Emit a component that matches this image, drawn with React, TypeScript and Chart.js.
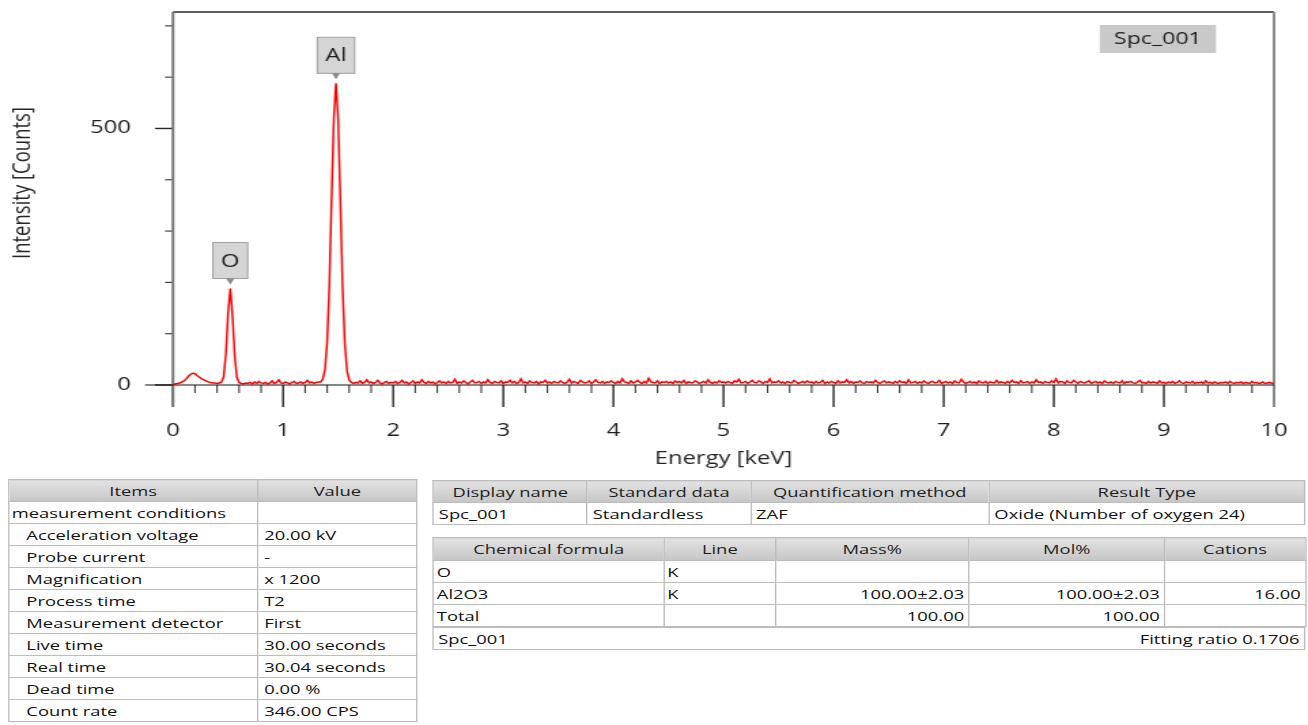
import React, { useEffect, useRef } from 'react';
import { Chart, registerables } from 'chart.js';

Chart.register(...registerables);

// ---------------- data ----------------
const energyStart = 0; // keV of first channel
const energyStep = 0.02; // keV per channel
const counts: number[] = [
  1, 2, 3, 4, 6, 8, 12, 17, 21, 23, 22, 18, 15, 12, 10, 8, 6, 5, 4, 4, 3, 4, 6, 16, 60,
  140, 188, 136, 58, 15, 5, 3, 2, 4, 3, 5, 2, 6, 3, 7, 4, 3, 5, 2, 4, 8, 3, 5, 10, 4,
  3, 6, 4, 2, 5, 7, 3, 4, 6, 3, 5, 9, 4, 6, 3, 5, 6, 6, 11, 30, 84, 196, 362, 518, 588,
  518, 358, 192, 82, 28, 10, 5, 3, 5, 4, 8, 3, 5, 10, 4, 6, 3, 5, 9, 4, 2, 5, 7, 3, 5,
  4, 7, 3, 5, 9, 4, 6, 2, 5, 8, 3, 6, 4, 10, 5, 3, 7, 4, 6, 2, 5, 8, 4, 6, 3,
  7, 4, 5, 11, 3, 6, 4, 8, 5, 2, 6, 9, 4, 5, 7, 3, 6, 4, 10, 5, 3, 7, 5, 4, 8,
  3, 6, 5, 9, 4, 7, 3, 5, 12, 4, 6, 3, 8, 5, 4, 7, 2, 6, 5, 9, 4, 6, 3, 7, 5,
  4, 8, 5, 3, 6, 11, 4, 7, 5, 3, 9, 6, 4, 5, 8, 3, 6, 10, 5, 4, 7, 3, 6, 5, 8,
  5, 3, 7, 4, 12, 6, 5, 3, 8, 4, 6, 9, 5, 3, 7, 4, 13, 6, 5, 4, 8, 3, 6, 5, 7,
  4, 6, 3, 8, 5, 7, 4, 9, 3, 6, 5, 4, 8, 6, 3, 5, 7, 4, 10, 5, 3, 6, 4, 8, 5,
  6, 4, 7, 5, 3, 8, 6, 11, 4, 5, 7, 3, 6, 9, 5, 4, 8, 6, 3, 7, 5, 12, 4, 6, 5,
  8, 4, 6, 3, 7, 5, 4, 9, 6, 3, 5, 7, 4, 8, 5, 6, 3, 7, 4, 5, 9, 3, 6, 4, 7,
  5, 3, 8, 4, 6, 5, 10, 4, 7, 3, 6, 5, 8, 4, 3, 7, 5, 6, 4, 9, 5, 3, 6, 8, 4,
  6, 5, 3, 7, 4, 8, 5, 6, 3, 10, 4, 5, 7, 3, 6, 4, 8, 5, 3, 6, 7, 4, 5, 9, 3,
  5, 7, 4, 6, 3, 8, 5, 4, 11, 6, 3, 5, 7, 4, 6, 3, 8, 5, 4, 7, 3, 6, 5, 4, 9,
  4, 6, 5, 3, 7, 4, 9, 5, 6, 3, 8, 4, 5, 7, 3, 6, 4, 10, 5, 6, 3, 7, 5, 4, 8,
  5, 12, 4, 7, 6, 3, 8, 5, 4, 9, 6, 3, 7, 5, 4, 6, 8, 3, 5, 7, 4, 6, 3, 8, 5,
  4, 6, 3, 7, 5, 4, 8, 3, 6, 5, 7, 4, 3, 6, 9, 4, 5, 3, 7, 4, 6, 5, 3, 8, 4,
  5, 3, 6, 4, 7, 3, 5, 8, 4, 3, 6, 5, 4, 7, 3, 5, 4, 6, 3, 8, 4, 5, 3, 6, 4,
  3, 5, 4, 6, 3, 7, 4, 3, 5, 4, 6, 3, 5, 4, 3, 7, 4, 5, 3, 4, 6, 3, 4, 5, 3,
  4,
];
const spectrumName = 'Spc_001';
const peakNames = ['O', 'Al'];
const peakEnergies = [0.52, 1.48];
const peakCounts = [188, 588];

const xMin = 0;
const xMax = 10;
const xTickValues = [0, 1, 2, 3, 4, 5, 6, 7, 8, 9, 10];
const xMinorStep = 0.2;
const yMin = 0;
const yMax = 727;
const yTickValues = [0, 500];
const yMinorStep = 100;
const xTitle = 'Energy [keV]';
const yTitle = 'Intensity [Counts]';

const conditionHeaders = ['Items', 'Value'];
const conditionItems = [
  'measurement conditions',
  'Acceleration voltage',
  'Probe current',
  'Magnification',
  'Process time',
  'Measurement detector',
  'Live time',
  'Real time',
  'Dead time',
  'Count rate',
];
const conditionValues = ['', '20.00 kV', '-', 'x 1200', 'T2', 'First', '30.00 seconds', '30.04 seconds', '0.00 %', '346.00 CPS'];

const resultHeaders = ['Display name', 'Standard data', 'Quantification method', 'Result Type'];
const resultValues = ['Spc_001', 'Standardless', 'ZAF', 'Oxide (Number of oxygen 24)'];

const quantHeaders = ['Chemical formula', 'Line', 'Mass%', 'Mol%', 'Cations'];
const quantFormulas = ['O', 'Al2O3', 'Total'];
const quantLines = ['K', 'K', ''];
const quantMass = ['', '100.00±2.03', '100.00'];
const quantMol = ['', '100.00±2.03', '100.00'];
const quantCations = ['', '16.00', ''];
const footerLeft = 'Spc_001';
const footerRight = 'Fitting ratio 0.1706';

// ---------------- layout ----------------
const PAGE_W = 962;
const SX = 1308 / PAGE_W; // the whole picture is stretched horizontally
const sx = (v: number) => v / SX;
const FONT = '"Open Sans", "Noto Sans", sans-serif';
const CANVAS_H = 478;
const PLOT_TOP = 12;
const PLOT_BOTTOM = 385;
const PLOT_LEFT = sx(173);
const PLOT_RIGHT = sx(1274);

const edsDecor = {
  id: 'edsDecor',
  beforeDatasetsDraw(chart: any) {
    const { ctx, chartArea } = chart;
    const { left, right, top } = chartArea;
    const xs = chart.scales.x;
    const ys = chart.scales.y;
    const y0 = ys.getPixelForValue(yMin);
    const majorLen = 22;
    const minorLen = 8;
    const seg = (x1: number, y1: number, x2: number, y2: number, color: string, w: number) => {
      ctx.beginPath();
      ctx.moveTo(x1, y1);
      ctx.lineTo(x2, y2);
      ctx.strokeStyle = color;
      ctx.lineWidth = w;
      ctx.stroke();
    };
    ctx.save();
    const nX = Math.round((xMax - xMin) / xMinorStep);
    for (let i = 1; i < nX; i++) {
      const v = xMin + i * xMinorStep;
      if (xTickValues.some((t) => Math.abs(t - v) < 1e-6)) continue;
      const px = xs.getPixelForValue(v);
      seg(px, y0, px, y0 + minorLen, '#3c3c3c', 1.1);
    }
    xs.ticks.forEach((t: any) => {
      const px = xs.getPixelForValue(t.value);
      seg(px, y0, px, y0 + majorLen, '#262626', 1.4);
    });
    const nY = Math.floor((yMax - yMin) / yMinorStep);
    for (let i = 1; i <= nY; i++) {
      const v = yMin + i * yMinorStep;
      if (yTickValues.includes(v)) continue;
      const py = ys.getPixelForValue(v);
      seg(left - sx(8), py, left, py, '#444', 1.2);
    }
    ys.ticks.forEach((t: any) => {
      const py = ys.getPixelForValue(t.value);
      seg(left - sx(18), py, left, py, '#262626', 1.4);
    });
    seg(left, top, right, top, '#2a2a2a', 1.3);
    seg(left, top, left, y0 + majorLen, '#777777', 2);
    seg(right, top, right, y0 + majorLen, '#8a8a8a', 2);
    seg(left - sx(28), y0, right, y0, '#111111', 1.1);
    ctx.restore();
  },
  afterDraw(chart: any) {
    const { ctx, chartArea } = chart;
    const { left, right, top } = chartArea;
    const xs = chart.scales.x;
    const ys = chart.scales.y;
    ctx.save();
    // peak labels
    ctx.font = `17.5px ${FONT}`;
    peakNames.forEach((name, i) => {
      const px = xs.getPixelForValue(peakEnergies[i]);
      const py = ys.getPixelForValue(peakCounts[i]);
      const tw = ctx.measureText(name).width;
      const bw = tw + 12;
      const bh = 36;
      const bb = py - 10;
      const bt = bb - bh;
      ctx.fillStyle = '#d5d5d5';
      ctx.fillRect(px - bw / 2, bt, bw, bh);
      ctx.strokeStyle = '#9e9e9e';
      ctx.lineWidth = 1;
      ctx.strokeRect(px - bw / 2, bt, bw, bh);
      ctx.beginPath();
      ctx.moveTo(px - 3, bb);
      ctx.lineTo(px, py - 4);
      ctx.lineTo(px + 3, bb);
      ctx.closePath();
      ctx.fillStyle = '#8a8a8a';
      ctx.fill();
      ctx.fillStyle = '#1c1c1c';
      ctx.textAlign = 'center';
      ctx.textBaseline = 'middle';
      ctx.fillText(name, px, bt + bh / 2 + 1);
    });
    // series name box
    const label = chart.data.datasets[0].label;
    ctx.font = `17px ${FONT}`;
    const lw = ctx.measureText(label).width + 21;
    const lr = right - sx(58);
    ctx.fillStyle = '#c9c9c9';
    ctx.fillRect(lr - lw, top + 13, lw, 28);
    ctx.fillStyle = '#1c1c1c';
    ctx.textAlign = 'center';
    ctx.textBaseline = 'middle';
    ctx.fillText(label, lr - lw / 2, top + 27.5);
    // axis titles
    ctx.fillStyle = '#262626';
    ctx.font = `17.5px ${FONT}`;
    ctx.fillText(xTitle, (left + right) / 2, 459);
    ctx.save();
    ctx.translate(sx(23), 183);
    ctx.rotate(-Math.PI / 2);
    ctx.font = `18.5px ${FONT}`;
    ctx.fillText(yTitle, 0, 0);
    ctx.restore();
    ctx.restore();
  },
};

function SpectrumChart() {
  const ref = useRef<HTMLCanvasElement | null>(null);
  useEffect(() => {
    if (!ref.current) return;
    const points = counts.map((c, i) => ({ x: energyStart + i * energyStep, y: c }));
    const tickFont = { family: FONT, size: 17.5 };
    const chart = new Chart(ref.current, {
      type: 'line',
      data: {
        datasets: [
          {
            label: spectrumName,
            data: points,
            borderColor: '#ff0000',
            borderWidth: 1.5,
            pointRadius: 0,
            tension: 0,
            fill: false,
          },
        ],
      },
      options: {
        responsive: false,
        animation: false,
        events: [],
        layout: { padding: { left: 0, right: PAGE_W - PLOT_RIGHT, top: PLOT_TOP, bottom: 0 } },
        plugins: { legend: { display: false }, tooltip: { enabled: false } },
        scales: {
          x: {
            type: 'linear',
            min: xMin,
            max: xMax,
            grid: { display: false, drawTicks: false, tickLength: 0 },
            border: { display: false },
            ticks: {
              padding: 36,
              maxRotation: 0,
              autoSkip: false,
              color: '#1e1e1e',
              font: tickFont,
            },
            afterBuildTicks: (s: any) => {
              s.ticks = xTickValues.map((v) => ({ value: v }));
            },
            afterFit: (s: any) => {
              s.height = CANVAS_H - PLOT_BOTTOM;
              s.paddingLeft = 0;
              s.paddingRight = 0;
            },
          },
          y: {
            type: 'linear',
            min: yMin,
            max: yMax,
            grid: { display: false, drawTicks: false, tickLength: 0 },
            border: { display: false },
            ticks: {
              padding: 31,
              color: '#1e1e1e',
              font: tickFont,
            },
            afterBuildTicks: (s: any) => {
              s.ticks = yTickValues.map((v) => ({ value: v }));
            },
            afterFit: (s: any) => {
              s.width = PLOT_LEFT;
              s.paddingTop = 0;
              s.paddingBottom = 0;
            },
          },
        },
      } as any,
      plugins: [edsDecor],
    });
    return () => chart.destroy();
  }, []);
  return <canvas ref={ref} width={PAGE_W} height={CANVAS_H} style={{ position: 'absolute', left: 0, top: 0 }} />;
}

const cell: React.CSSProperties = {
  border: '1px solid #bcbcbc',
  padding: '0 3px',
  whiteSpace: 'nowrap',
  overflow: 'hidden',
  lineHeight: '18px',
  verticalAlign: 'middle',
};
const head: React.CSSProperties = {
  ...cell,
  background: 'linear-gradient(#e2e2e2, #c6c6c6)',
  textAlign: 'center',
  color: '#1e1e1e',
};
const tableBase: React.CSSProperties = {
  position: 'absolute',
  borderCollapse: 'collapse',
  tableLayout: 'fixed',
  fontFamily: FONT,
  fontSize: 13.5,
  color: '#111',
};

function ConditionTable() {
  const widths = [sx(256.7 - 8.3), sx(416.7 - 256.7)];
  return (
    <table style={{ ...tableBase, left: sx(8.3), top: 479, width: widths[0] + widths[1] }}>
      <colgroup>
        {widths.map((w, i) => (
          <col key={i} style={{ width: w }} />
        ))}
      </colgroup>
      <tbody>
        <tr style={{ height: 22 }}>
          {conditionHeaders.map((h) => (
            <td key={h} style={head}>
              {h}
            </td>
          ))}
        </tr>
        {conditionItems.map((name, i) => (
          <tr key={name} style={{ height: 22 }}>
            <td style={{ ...cell, paddingLeft: i === 0 ? 1.5 : 12.3 }}>{name}</td>
            <td style={{ ...cell, paddingLeft: 4.5 }}>{conditionValues[i]}</td>
          </tr>
        ))}
      </tbody>
    </table>
  );
}

function ResultTable() {
  const edges = [432.7, 586.7, 750, 988.3, 1304];
  const widths = edges.slice(1).map((e, i) => sx(e - edges[i]));
  return (
    <table style={{ ...tableBase, left: sx(edges[0]), top: 480, width: sx(edges[4] - edges[0]) }}>
      <colgroup>
        {widths.map((w, i) => (
          <col key={i} style={{ width: w }} />
        ))}
      </colgroup>
      <tbody>
        <tr style={{ height: 22 }}>
          {resultHeaders.map((h) => (
            <td key={h} style={head}>
              {h}
            </td>
          ))}
        </tr>
        <tr style={{ height: 22 }}>
          {resultValues.map((v, i) => (
            <td key={i} style={{ ...cell, paddingLeft: 3.5 }}>
              {v}
            </td>
          ))}
        </tr>
      </tbody>
    </table>
  );
}

function QuantTable() {
  const edges = [432.7, 663.3, 775, 968.3, 1164, 1305];
  const widths = edges.slice(1).map((e, i) => sx(e - edges[i]));
  const rows = quantFormulas.map((f, i) => [f, quantLines[i], quantMass[i], quantMol[i], quantCations[i]]);
  return (
    <>
      <table style={{ ...tableBase, left: sx(edges[0]), top: 537, width: sx(edges[5] - edges[0]) }}>
        <colgroup>
          {widths.map((w, i) => (
            <col key={i} style={{ width: w }} />
          ))}
        </colgroup>
        <tbody>
          <tr style={{ height: 23 }}>
            {quantHeaders.map((h) => (
              <td key={h} style={head}>
                {h}
              </td>
            ))}
          </tr>
          {rows.map((r, ri) => (
            <tr key={ri} style={{ height: 22 }}>
              {r.map((v, ci) => (
                <td key={ci} style={{ ...cell, textAlign: ci >= 2 ? 'right' : 'left', paddingLeft: 2, paddingRight: 3 }}>
                  {v}
                </td>
              ))}
            </tr>
          ))}
        </tbody>
      </table>
      <div
        style={{
          position: 'absolute',
          left: sx(edges[0]),
          top: 627,
          width: sx(edges[5] - edges[0]) - 8,
          height: 21,
          border: '1px solid #bcbcbc',
          display: 'flex',
          justifyContent: 'space-between',
          alignItems: 'center',
          fontFamily: FONT,
          fontSize: 13.5,
          color: '#111',
          padding: '0 3px',
          boxSizing: 'content-box',
          whiteSpace: 'nowrap',
        }}
      >
        <span>{footerLeft}</span>
        <span>{footerRight}</span>
      </div>
    </>
  );
}

export default function App() {
  return (
    <div
      style={{
        position: 'absolute',
        left: 0,
        top: 0,
        width: PAGE_W,
        height: 724,
        overflow: 'hidden',
        transform: `scaleX(${SX})`,
        transformOrigin: '0 0',
        background: '#ffffff',
      }}
    >
      <SpectrumChart />
      <ConditionTable />
      <ResultTable />
      <QuantTable />
    </div>
  );
}
